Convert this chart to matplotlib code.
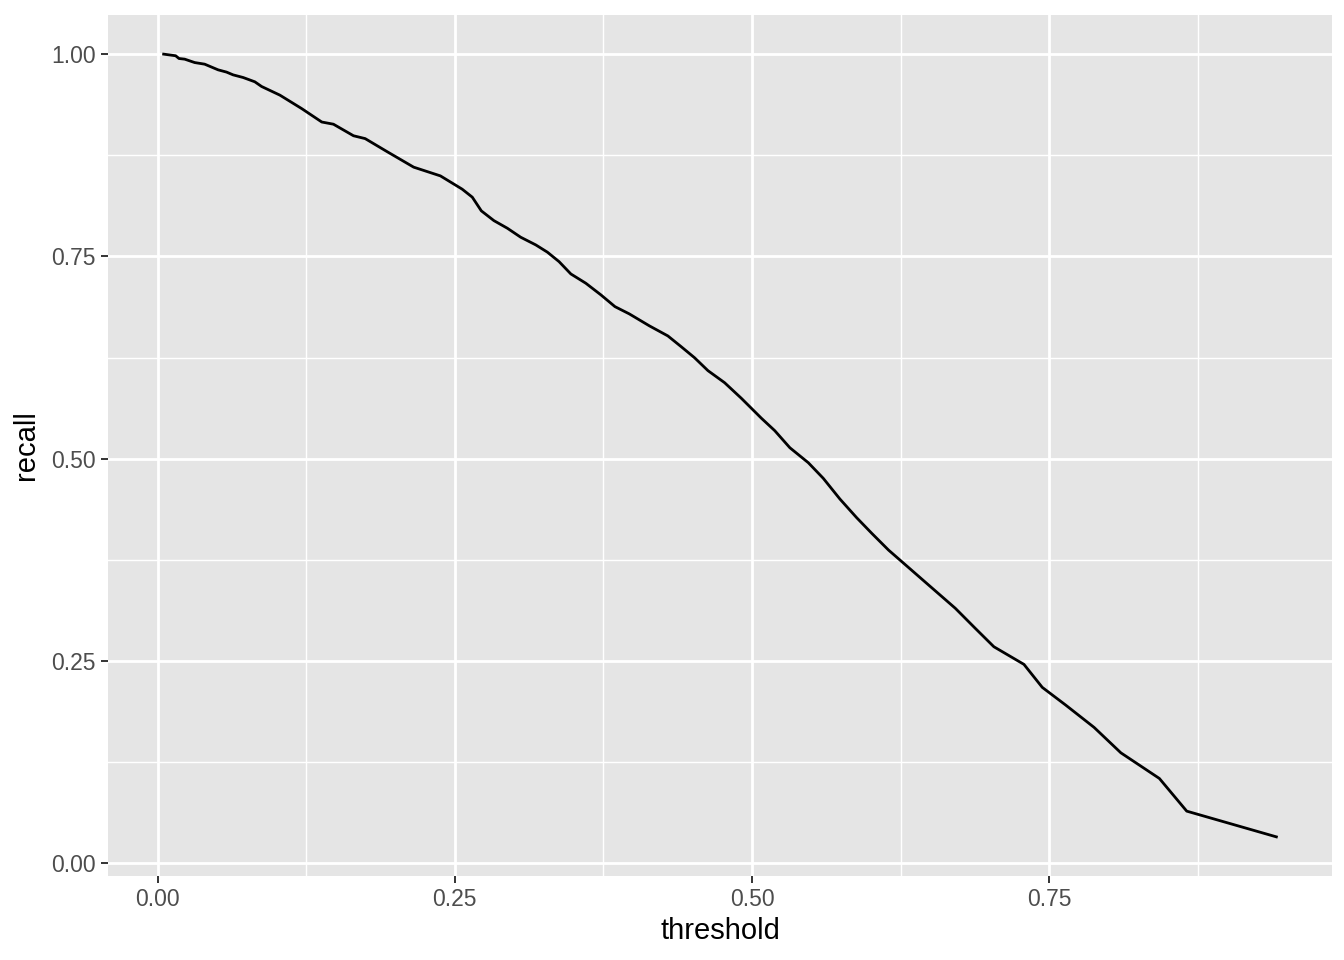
import matplotlib
matplotlib.use("Agg")
import matplotlib.pyplot as plt
from matplotlib.ticker import FixedLocator

plt.rcParams['font.family'] = ['Liberation Sans', 'DejaVu Sans']

threshold = [0.0051, 0.0152, 0.0180, 0.0228, 0.0312, 0.0396, 0.0509, 0.0580, 0.0635, 0.0720,
             0.0818, 0.0875, 0.1029, 0.1212, 0.1381, 0.1479, 0.1648, 0.1746, 0.1929, 0.2154,
             0.2379, 0.2562, 0.2647, 0.2723, 0.2829, 0.2942, 0.3054, 0.3181, 0.3279, 0.3377,
             0.3476, 0.3602, 0.3729, 0.3847, 0.3968, 0.4137, 0.4292, 0.4404, 0.4516, 0.4629,
             0.4769, 0.4910, 0.5079, 0.5191, 0.5318, 0.5473, 0.5599, 0.5739, 0.5880, 0.6007,
             0.6148, 0.6485, 0.6710, 0.6878, 0.7034, 0.7287, 0.7441, 0.7638, 0.7877, 0.8102,
             0.8426, 0.8656, 0.9410]
recall = [1.000, 0.998, 0.9946, 0.9938, 0.9896, 0.9876, 0.9806, 0.9778, 0.9744, 0.9711,
          0.9658, 0.9600, 0.9493, 0.9327, 0.9161, 0.9134, 0.8991, 0.8956, 0.8796, 0.8603,
          0.8495, 0.8331, 0.8232, 0.8063, 0.7942, 0.7848, 0.7737, 0.7642, 0.7552, 0.7435,
          0.7283, 0.7168, 0.7024, 0.6879, 0.6789, 0.6641, 0.6517, 0.6384, 0.6248, 0.6088,
          0.5939, 0.5746, 0.5499, 0.5346, 0.5135, 0.4950, 0.4757, 0.4501, 0.4270, 0.4077,
          0.3870, 0.3438, 0.3150, 0.2902, 0.2675, 0.2457, 0.2173, 0.1954, 0.1678, 0.1364,
          0.1047, 0.0643, 0.0325]

xticks = [0.0, 0.25, 0.5, 0.75]
yticks = [0.0, 0.25, 0.5, 0.75, 1.0]
tick_labels_x = ["0.00", "0.25", "0.50", "0.75"]
tick_labels_y = ["0.00", "0.25", "0.50", "0.75", "1.00"]

fig = plt.figure(figsize=(13.44, 9.6), dpi=100)
ax = fig.add_axes([108/1344, 84/960, (1332-108)/1344, (945-84)/960])
ax.set_facecolor('#E5E5E5')
for s in ax.spines.values():
    s.set_visible(False)

xmin, xmax = min(threshold), max(threshold)
ymin, ymax = min(recall), max(recall)
dx, dy = (xmax - xmin) * 0.05, (ymax - ymin) * 0.05
ax.set_xlim(xmin - dx, xmax + dx)
ax.set_ylim(ymin - dy, ymax + dy)

ax.xaxis.set_major_locator(FixedLocator(xticks))
ax.yaxis.set_major_locator(FixedLocator(yticks))
ax.xaxis.set_minor_locator(FixedLocator([0.125, 0.375, 0.625, 0.875]))
ax.yaxis.set_minor_locator(FixedLocator([0.125, 0.375, 0.625, 0.875]))
ax.set_xticklabels(tick_labels_x)
ax.set_yticklabels(tick_labels_y)

ax.grid(which='major', color='white', linewidth=2.0)
ax.grid(which='minor', color='white', linewidth=1.0)
ax.set_axisbelow(True)

ax.tick_params(which='major', length=5, width=1.4, color='#333333',
               labelsize=16.5, labelcolor='#4D4D4D', pad=4)
ax.tick_params(which='minor', length=0)

ax.plot(threshold, recall, color='black', linewidth=2.0)

ax.set_xlabel('threshold', fontsize=21, color='black', labelpad=4)
ax.set_ylabel('recall', fontsize=21, color='black', labelpad=8)

fig.savefig('out.png', dpi=100)
